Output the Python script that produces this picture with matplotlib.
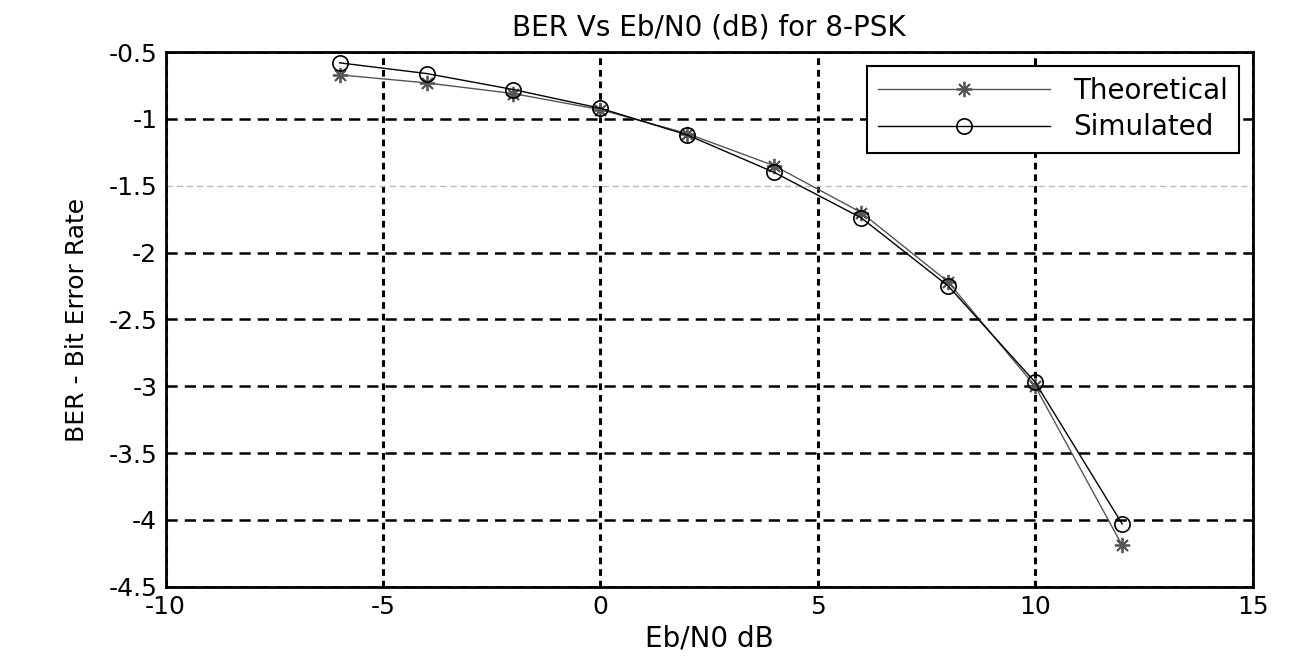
# BER frente a Eb/N0 para 8-PSK: curva teórica y simulada
import numpy as np
import matplotlib.pyplot as plt

# Datos (log10 del BER)
ebn0_db = [-6, -4, -2, 0, 2, 4, 6, 8, 10, 12]
ber_teorico = [-0.67, -0.73, -0.81, -0.93, -1.11, -1.35, -1.70, -2.22, -3.00, -4.19]
ber_simulado = [-0.58, -0.66, -0.78, -0.92, -1.12, -1.40, -1.74, -2.25, -2.97, -4.03]

x_ticks = [-10, -5, 0, 5, 10, 15]
y_ticks = [-4.5, -4, -3.5, -3, -2.5, -2, -1.5, -1, -0.5]


def plot_ber():
    plt.rcParams['font.family'] = ['DejaVu Sans']
    fig = plt.figure(figsize=(12.94, 6.6), dpi=100)
    ax = fig.add_axes([0.128, 0.111, 0.84, 0.810])

    # Curva teórica (gris, asteriscos) y simulada (negra, círculos)
    ax.plot(ebn0_db, ber_teorico, color='#555555', linewidth=1.0, marker=(8, 2, 0),
            markersize=11, markeredgewidth=1.3, label='Theoretical')
    ax.plot(ebn0_db, ber_simulado, color='black', linewidth=1.0, marker='o',
            markersize=11, markerfacecolor='none', markeredgewidth=1.2,
            label='Simulated')

    ax.set_xlim(-10, 15)
    ax.set_ylim(-4.5, -0.5)
    ax.set_xticks(x_ticks)
    ax.set_yticks(y_ticks)
    ax.set_xticklabels([f'{v:g}' for v in x_ticks])
    ax.set_yticklabels([f'{v:g}' for v in y_ticks])
    ax.tick_params(labelsize=18, length=0, pad=6)

    # Cuadrícula discontinua negra, como en MATLAB
    ax.xaxis.grid(True, color='black', linestyle=(0, (2.2, 1.6)), linewidth=2.2)
    ax.yaxis.grid(True, color='black', linestyle=(0, (4.5, 2.8)), linewidth=1.8)
    # la línea de -1.5 aparece tenue en la original
    for val, gl in zip(y_ticks, ax.get_ygridlines()):
        if val == -1.5:
            gl.set_color('#bbbbbb')
            gl.set_linewidth(1.0)
    for s in ax.spines.values():
        s.set_linewidth(2)

    ax.set_title('BER Vs Eb/N0 (dB) for 8-PSK', fontsize=20, pad=12)
    ax.set_xlabel('Eb/N0 dB', fontsize=20, labelpad=4)
    ax.set_ylabel('BER - Bit Error Rate', fontsize=18, labelpad=14)

    leg = ax.legend(loc='upper right', fontsize=20, handlelength=6.2,
                    fancybox=False, edgecolor='black', framealpha=1,
                    borderaxespad=0.5, labelspacing=0.3)
    leg.get_frame().set_linewidth(1.5)

    fig.savefig('out.png', dpi=100)


if __name__ == "__main__":
    plot_ber()
